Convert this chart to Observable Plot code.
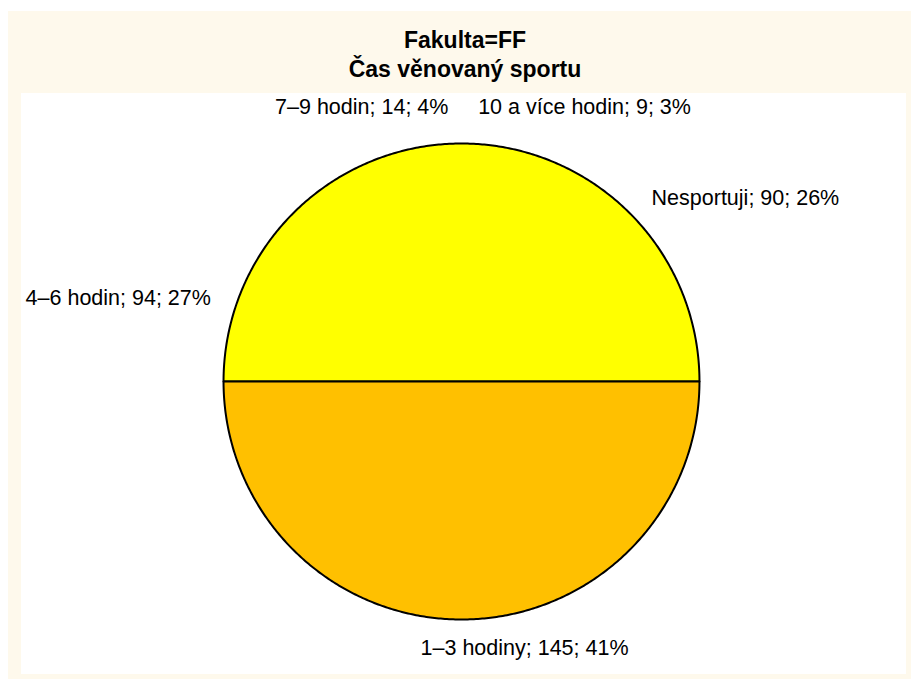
<!DOCTYPE html>
<html><head><meta charset="utf-8">
<script src="https://cdn.jsdelivr.net/npm/d3@7"></script>
<script src="https://cdn.jsdelivr.net/npm/@observablehq/plot@0.6"></script>
<style>
html,body{margin:0;padding:0;}
body{background:#fff;width:911px;height:679px;overflow:hidden;position:relative;font-family:"Liberation Sans",Arial,Helvetica,sans-serif;}
#frame{position:absolute;left:8px;top:11px;width:903px;height:668px;background:#FEF9EC;}
#title{position:absolute;left:0;top:26px;width:930px;text-align:center;font-weight:bold;font-size:23px;line-height:29px;color:#000;}
#plot{position:absolute;left:21px;top:93px;width:885px;height:581px;background:#fff;}
</style>
</head><body>
<div id="frame"></div>
<div id="title">Fakulta=FF<br>Čas věnovaný sportu</div>
<div id="plot"></div>
<script>
// ---- data ----
const categories = ["Nesportuji", "1–3 hodiny", "4–6 hodin", "7–9 hodin", "10 a více hodin"];
const counts = [90, 145, 94, 14, 9];
const percents = [26, 41, 27, 4, 3];
// fill colours of the two drawn halves (upper, lower) as in the reference rendering
const halfColors = ["#FFFF00", "#FFC000"];

// ---- geometry ----
const total = d3.sum(counts);
let cum = 0;
const slices = categories.map((c, i) => {
  const a0 = cum / total * 2 * Math.PI;
  cum += counts[i];
  const a1 = cum / total * 2 * Math.PI;
  return {cat: c, n: counts[i], p: percents[i], mid: (a0 + a1) / 2};
});

const Rx = 1.11; // horizontal label radius relative to pie radius
const labels = slices.map(s => {
  const sx = Math.sin(s.mid), cy = Math.cos(s.mid);
  const Ry = Math.abs(cy) > 0.9 ? 1.155 : 1.11;
  let anchor = sx > 0.5 ? "start" : sx < -0.5 ? "end" : "middle";
  return {text: `${s.cat}; ${s.n}; ${s.p}%`, x: Rx * sx, y: Ry * cy, anchor, mid: s.mid, top: cy > 0.9};
});
// spread labels that crowd at the top of the pie
const topLabels = labels.filter(d => d.top).sort((a, b) => a.mid - b.mid);
if (topLabels.length > 1) {
  const yTop = d3.max(topLabels, d => d.y);
  topLabels.forEach((d, i) => {
    d.y = yTop;
    if (i === 0) { d.anchor = "end"; d.x = -0.055; }
    else { d.anchor = "start"; d.x = 0.07; }
  });
}

// half-disc outlines
const steps = 360;
const upper = d3.range(steps + 1).map(k => { const t = Math.PI * k / steps; return {x: Math.cos(t), y: Math.sin(t)}; });
upper.push({x: 1, y: 0});
const lower = d3.range(steps + 1).map(k => { const t = Math.PI + Math.PI * k / steps; return {x: Math.cos(t), y: Math.sin(t)}; });
lower.push({x: -1, y: 0});

const font = "Liberation Sans, Arial, Helvetica, sans-serif";
const textMark = a => Plot.text(labels.filter(d => d.anchor === a), {
  x: "x", y: "y", text: "text", textAnchor: a, lineAnchor: "middle",
  fontSize: 21.5, fill: "#000", fontFamily: font
});

const chart = Plot.plot({
  width: 885, height: 581,
  margin: 0,
  x: {domain: [-1.849, 1.870], axis: null},
  y: {domain: [-1.231, 1.210], axis: null},
  style: {background: "#fff", fontFamily: font},
  marks: [
    Plot.line(upper, {x: "x", y: "y", fill: halfColors[0], stroke: "#000", strokeWidth: 2, curve: "linear"}),
    Plot.line(lower, {x: "x", y: "y", fill: halfColors[1], stroke: "#000", strokeWidth: 2, curve: "linear"}),
    textMark("start"), textMark("end"), textMark("middle")
  ]
});
document.getElementById("plot").appendChild(chart);
</script>
</body></html>
